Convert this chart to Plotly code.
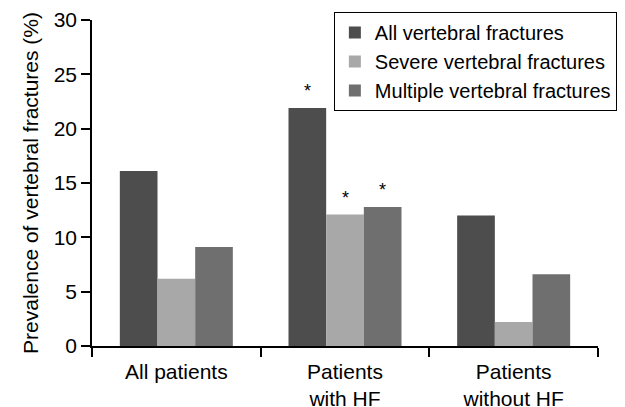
import plotly.graph_objects as go

categories = ["All patients", "Patients<br>with HF", "Patients<br>without HF"]
series_names = ["All vertebral fractures", "Severe vertebral fractures", "Multiple vertebral fractures"]
all_vf = [16.1, 21.9, 12.0]
severe_vf = [6.2, 12.1, 2.2]
multiple_vf = [9.1, 12.8, 6.6]
significant = [[False, True, False], [False, True, False], [False, True, False]]
y_ticks = [0, 5, 10, 15, 20, 25, 30]

colors = ["#4d4d4d", "#a8a8a8", "#6f6f6f"]
values = [all_vf, severe_vf, multiple_vf]
FONT = "Liberation Sans, Arial, Helvetica, sans-serif"
FS = 21

fig = go.Figure()
for name, vals, col in zip(series_names, values, colors):
    fig.add_trace(go.Bar(x=categories, y=vals, name=name, marker=dict(color=col, line=dict(width=0))))

bargap = 0.33
bw = (1 - bargap) / 3
annotations = []
for si, vals in enumerate(values):
    for ci, v in enumerate(vals):
        if significant[si][ci]:
            annotations.append(dict(x=ci + (si - 1) * bw, y=v, xref="x", yref="y", text="*",
                                    showarrow=False, yanchor="bottom", yshift=5,
                                    font=dict(size=18, color="black", family=FONT)))

fig.update_layout(
    width=625, height=407,
    margin=dict(l=92, r=27, t=20, b=61, autoexpand=False),
    paper_bgcolor="white", plot_bgcolor="white",
    barmode="group", bargap=bargap, bargroupgap=0,
    font=dict(family=FONT, size=FS, color="black"),
    showlegend=True,
    legend=dict(x=0.478, y=1.0245, xanchor="left", yanchor="top",
                bordercolor="black", borderwidth=1, bgcolor="white",
                font=dict(size=20), itemwidth=30, tracegroupgap=0),
    annotations=annotations,
    xaxis=dict(type="category", tickson="boundaries", ticks="outside", ticklen=9,
               tickcolor="black", tickwidth=1.5, showline=True, linecolor="black",
               linewidth=1.5, showgrid=False, zeroline=False, automargin=False,
               ticklabelstandoff=6, tickfont=dict(size=FS)),
    yaxis=dict(range=[0, 30], tickvals=y_ticks, ticks="outside", ticklen=9,
               tickcolor="black", tickwidth=1.5, showline=True, linecolor="black",
               linewidth=1.5, showgrid=False, zeroline=False, automargin=False,
               title=dict(text="Prevalence of vertebral fractures (%)", font=dict(size=FS), standoff=9),
               tickfont=dict(size=FS)),
)

fig.write_html("out.html", config={"displayModeBar": False},
               post_script="document.body.style.margin='0px';")
